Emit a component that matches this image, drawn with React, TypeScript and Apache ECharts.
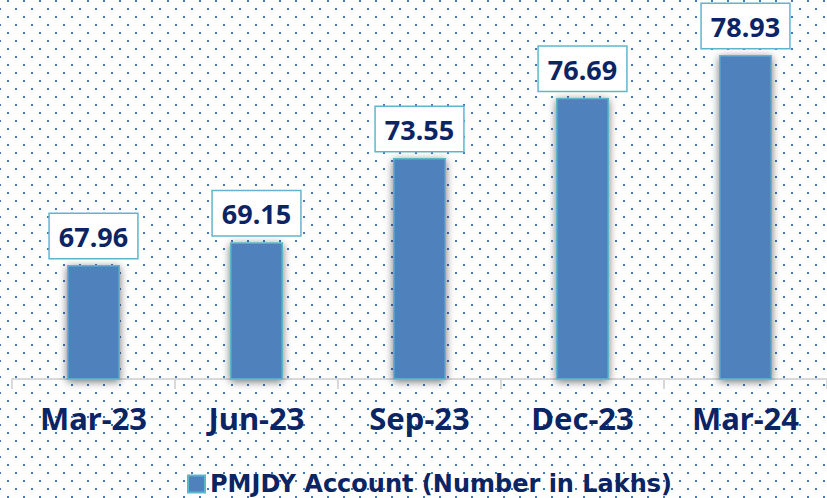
import React, { useEffect, useRef } from "react";
import * as echarts from "echarts";

const categories = ["Mar-23", "Jun-23", "Sep-23", "Dec-23", "Mar-24"];
const accounts = [67.96, 69.15, 73.55, 76.69, 78.93];
const seriesName = "PMJDY Account (Number in Lakhs)";

const FONT = "'Noto Sans', 'DejaVu Sans', sans-serif";
const LEGEND_FONT = "'DejaVu Sans', 'Noto Sans', sans-serif";
const NAVY = "#0b2463";
const BAR = "#4f81bd";
const TEAL = "#5fb6cc";

function makeDots(): HTMLCanvasElement {
  const c = document.createElement("canvas");
  c.width = 16;
  c.height = 16;
  const ctx = c.getContext("2d")!;
  ctx.fillStyle = "#ffffff";
  ctx.fillRect(0, 0, 16, 16);
  ctx.fillStyle = "#4478b8";
  ctx.fillRect(7, 0, 2, 2);
  ctx.fillRect(15, 8, 1, 2);
  ctx.fillRect(0, 8, 1, 2);
  return c;
}

export default function App() {
  const ref = useRef<HTMLDivElement>(null);
  useEffect(() => {
    document.body.style.margin = "0";
    const chart = echarts.init(ref.current!, null, { renderer: "svg" });
    chart.setOption({
      animation: false,
      backgroundColor: { image: makeDots(), repeat: "repeat" } as any,
      grid: { left: 12, right: -7.5, top: 34.5, bottom: 119, containLabel: false },
      legend: {
        data: [{ name: seriesName, icon: "rect" }],
        left: 182,
        top: 467,
        itemWidth: 17,
        itemHeight: 17,
        itemGap: 6,
        textStyle: {
          fontFamily: LEGEND_FONT,
          fontWeight: "bold",
          fontSize: 24,
          lineHeight: 24,
          color: NAVY,
        },
      },
      xAxis: {
        type: "category",
        data: categories,
        axisLine: { lineStyle: { color: "#d9d9d9", width: 2 } },
        axisTick: { show: true, length: 10, lineStyle: { color: "#d9d9d9", width: 2 } },
        axisLabel: {
          fontFamily: FONT,
          fontWeight: "bold",
          fontSize: 31,
          color: NAVY,
          margin: 23,
        },
      },
      yAxis: {
        type: "value",
        min: 62,
        max: 80,
        show: false,
        splitLine: { show: false },
      },
      series: [
        {
          name: seriesName,
          type: "bar",
          data: accounts,
          barWidth: 53,
          itemStyle: {
            color: BAR,
            borderColor: TEAL,
            borderWidth: 1.5,
            shadowBlur: 8,
            shadowColor: "rgba(0,0,0,0.55)",
            shadowOffsetY: 2,
          },
          label: {
            show: true,
            position: "top",
            distance: 7,
            fontFamily: FONT,
            fontWeight: "bold",
            fontSize: 27,
            lineHeight: 27,
            color: NAVY,
            backgroundColor: "#ffffff",
            borderColor: TEAL,
            borderWidth: 1.5,
            padding: [9, 9, 8, 9],
            formatter: (p: any) => p.value.toFixed(2),
          },
        },
      ],
    });
    return () => chart.dispose();
  }, []);
  return <div ref={ref} style={{ width: 827, height: 498 }} />;
}
